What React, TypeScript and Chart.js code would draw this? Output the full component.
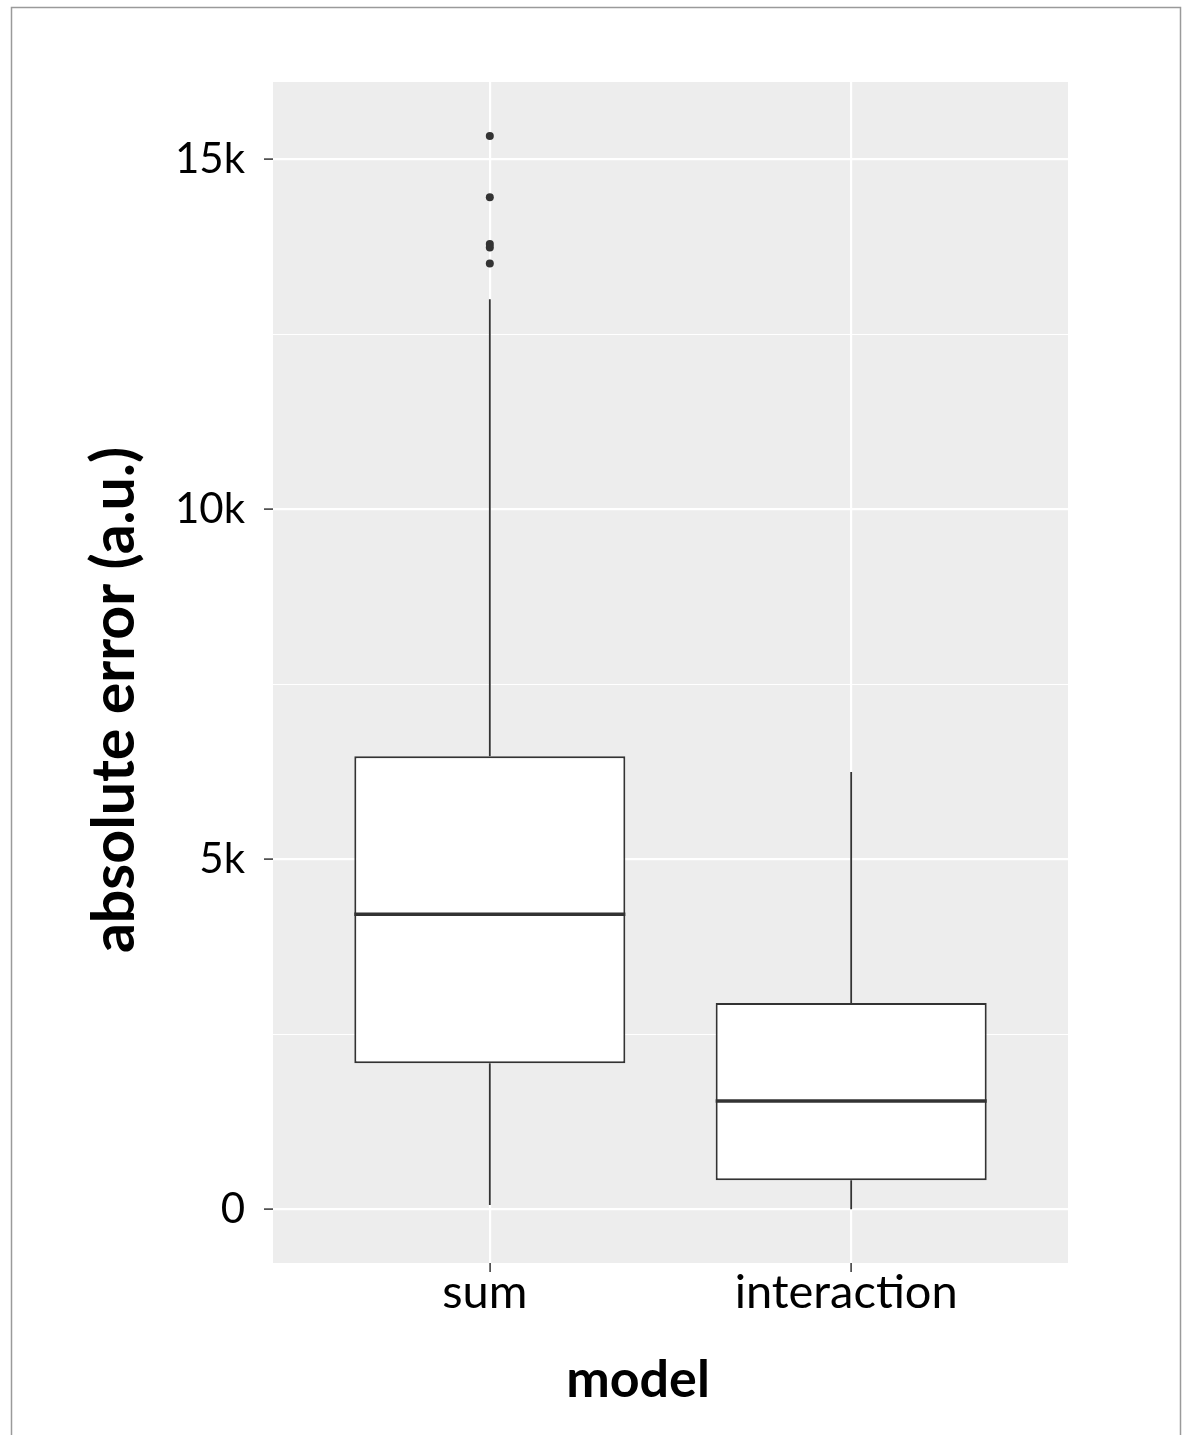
import React, { useEffect, useRef } from "react";
import { Chart, registerables } from "chart.js";

Chart.register(...registerables);

// ---- data ----
const categories = ["sum", "interaction"];
const whiskerLow = [61, 0];
const q1 = [2086, 414];
const median = [4214, 1547];
const q3 = [6471, 2947];
const whiskerHigh = [13000, 6247];
const outlierCategory = [1, 1, 1, 1, 1];
const outlierValues = [15333, 14457, 13790, 13740, 13510];
const yMajorTicks = [0, 5000, 10000, 15000];
const yMajorLabels = ["0", "5k", "10k", "15k"];
const yMinorTicks = [2500, 7500, 12500];
const xTitle = "model";
const yTitle = "absolute error (a.u.)";

const BOX_WIDTH = 0.75;
const LINE = "#333333";

const decorPlugin = {
  id: "decor",
  beforeDraw(chart: any) {
    const { ctx, chartArea } = chart;
    ctx.save();
    ctx.fillStyle = "#ffffff";
    ctx.fillRect(0, 0, chart.width, chart.height);
    ctx.strokeStyle = "#9a9a9a";
    ctx.lineWidth = 1.5;
    ctx.strokeRect(11.5, 7.5, 1169, 1500);
    ctx.fillStyle = "#EDEDED";
    ctx.fillRect(chartArea.left, chartArea.top, chartArea.right - chartArea.left, chartArea.bottom - chartArea.top);
    ctx.restore();
  },
  beforeDatasetsDraw(chart: any) {
    const { ctx } = chart;
    const xs = chart.scales.x;
    const ys = chart.scales.y;
    ctx.save();
    ctx.strokeStyle = LINE;
    ctx.lineWidth = 1.8;
    categories.forEach((_, i) => {
      const x = xs.getPixelForValue(i + 1);
      ctx.beginPath();
      ctx.moveTo(x, ys.getPixelForValue(q3[i]));
      ctx.lineTo(x, ys.getPixelForValue(whiskerHigh[i]));
      ctx.moveTo(x, ys.getPixelForValue(q1[i]));
      ctx.lineTo(x, ys.getPixelForValue(whiskerLow[i]));
      ctx.stroke();
    });
    ctx.restore();
  },
  afterDatasetsDraw(chart: any) {
    const { ctx } = chart;
    const xs = chart.scales.x;
    const ys = chart.scales.y;
    ctx.save();
    ctx.strokeStyle = LINE;
    ctx.lineWidth = 3.5;
    categories.forEach((_, i) => {
      const x0 = xs.getPixelForValue(i + 1 - BOX_WIDTH / 2);
      const x1 = xs.getPixelForValue(i + 1 + BOX_WIDTH / 2);
      const y = ys.getPixelForValue(median[i]);
      ctx.beginPath();
      ctx.moveTo(x0, y);
      ctx.lineTo(x1, y);
      ctx.stroke();
    });
    ctx.restore();
  },
  afterDraw(chart: any) {
    const { ctx } = chart;
    ctx.save();
    ctx.fillStyle = "#000000";
    ctx.textAlign = "center";
    ctx.textBaseline = "alphabetic";
    ctx.font = "bold 52px Lato";
    ctx.fillText(xTitle, 638, 1397);
    ctx.translate(134, 700);
    ctx.rotate(-Math.PI / 2);
    ctx.font = "bold 59px Lato";
    ctx.fillText(yTitle, 0, 0);
    ctx.restore();
  },
};

function ChartView() {
  const ref = useRef<HTMLCanvasElement | null>(null);
  useEffect(() => {
    let chart: Chart | null = null;
    let cancelled = false;
    const make = () => {
      if (cancelled || !ref.current) return;
      const allY = [...yMinorTicks, ...yMajorTicks].sort((a, b) => a - b);
      chart = new Chart(ref.current, {
        type: "bar",
        data: {
          datasets: [
            {
              type: "bar",
              data: categories.map((_, i) => ({ x: i + 1, y: [q1[i], q3[i]] })) as any,
              backgroundColor: "#ffffff",
              borderColor: LINE,
              borderWidth: 2,
              borderSkipped: false,
              barPercentage: BOX_WIDTH,
              categoryPercentage: 1,
              grouped: false,
            } as any,
            {
              type: "scatter",
              data: outlierValues.map((v, i) => ({ x: outlierCategory[i], y: v })),
              pointRadius: 4,
              pointBackgroundColor: LINE,
              pointBorderWidth: 0,
            } as any,
          ],
        },
        options: {
          animation: false,
          responsive: false,
          events: [],
          layout: { padding: { left: 0, top: 82, right: 118, bottom: 0 } },
          plugins: { legend: { display: false }, tooltip: { enabled: false } },
          scales: {
            x: {
              type: "linear",
              min: 0.4,
              max: 2.6,
              offset: false,
              afterBuildTicks: (axis: any) => {
                axis.ticks = categories.map((_, i) => ({ value: i + 1 }));
              },
              afterFit: (axis: any) => {
                axis.height = 172;
              },
              ticks: {
                autoSkip: false,
                maxRotation: 0,
                padding: -7,
                labelOffset: -5,
                color: "#000000",
                font: { family: "Lato", size: 47 },
                callback: (v: any) => categories[Math.round(v) - 1] ?? "",
              },
              grid: {
                offset: false,
                color: "#ffffff",
                lineWidth: 2.2,
                drawTicks: true,
                tickLength: 9,
                tickColor: LINE,
                tickWidth: 1.5,
              },
              border: { display: false },
            },
            y: {
              type: "linear",
              min: -767,
              max: 16104,
              afterBuildTicks: (axis: any) => {
                axis.ticks = allY.map((v) => ({ value: v }));
              },
              afterFit: (axis: any) => {
                axis.width = 273;
              },
              ticks: {
                autoSkip: false,
                padding: 19,
                color: "#000000",
                font: { family: "Lato", size: 42 },
                callback: (v: any) => {
                  const k = yMajorTicks.indexOf(Number(v));
                  return k >= 0 ? yMajorLabels[k] : "";
                },
              },
              grid: {
                color: "#ffffff",
                lineWidth: (c: any) => (yMajorTicks.includes(c.tick?.value) ? 2.2 : 1.1),
                drawTicks: true,
                tickLength: 9,
                tickColor: (c: any) => (yMajorTicks.includes(c.tick?.value) ? LINE : "rgba(0,0,0,0)"),
                tickWidth: 1.5,
              },
              border: { display: false },
            },
          },
        },
        plugins: [decorPlugin],
      } as any);
    };
    const fonts = (document as any).fonts;
    if (fonts && fonts.load) {
      Promise.all([fonts.load("40px Lato"), fonts.load("bold 50px Lato")]).then(make, make);
    } else {
      make();
    }
    return () => {
      cancelled = true;
      if (chart) chart.destroy();
    };
  }, []);
  return (
    <div style={{ position: "absolute", left: 0, top: 0, width: 1186, height: 1435 }}>
      <canvas ref={ref} width={1186} height={1435} style={{ display: "block" }} />
    </div>
  );
}

export default function App() {
  return <ChartView />;
}
